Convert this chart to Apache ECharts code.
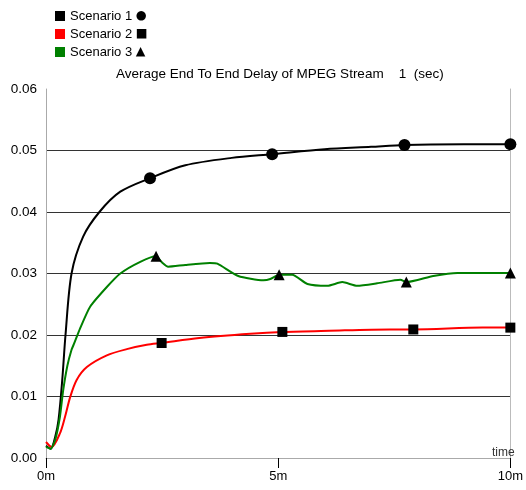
<!DOCTYPE html>
<html>
<head>
<meta charset="utf-8">
<script src="https://cdn.jsdelivr.net/npm/echarts@6/dist/echarts.min.js"></script>
<style>
  html, body { margin: 0; padding: 0; background: #fff; }
  #main { width: 526px; height: 490px; }
</style>
</head>
<body>
<div id="main"></div>
<script>
// time in minutes, delay in seconds
var s1Time  = [0, 0.1, 0.2, 0.27, 0.35, 0.42, 0.55, 0.8, 1.15, 1.6, 2.24, 3.0, 4.0, 4.87, 6.0, 7.0, 7.72, 9.0, 10];
var s1Delay = [0.0020, 0.0015, 0.0035, 0.0062, 0.0127, 0.020, 0.030, 0.036, 0.040, 0.0433, 0.0455, 0.0476, 0.0488, 0.0494, 0.0502, 0.0506, 0.0509, 0.0510, 0.0510];
var s1Marks = [2.24, 4.87, 7.72, 10];

var s2Time  = [0, 0.12, 0.3, 0.41, 0.52, 0.66, 0.88, 1.31, 1.74, 2.17, 2.49, 3.3, 4.4, 5.09, 6.1, 7.4, 7.91, 9.4, 10];
var s2Delay = [0.0026, 0.0018, 0.0040, 0.0067, 0.0099, 0.0127, 0.0148, 0.0167, 0.0177, 0.0184, 0.0187, 0.0195, 0.0202, 0.0205, 0.0207, 0.0209, 0.0209, 0.0212, 0.0212];
var s2Marks = [2.49, 5.09, 7.91, 10];

var s3Time  = [0, 0.1, 0.2, 0.3, 0.37, 0.46, 0.55, 0.6, 0.73, 0.95, 1.31, 1.6, 2.03, 2.37, 2.5, 2.63, 3.0, 3.53, 3.69, 4.14, 4.68, 4.83, 5.02, 5.3, 5.63, 6.06, 6.38, 6.7, 7.13, 7.63, 7.76, 8.34, 8.86, 10];
var s3Delay = [0.0018, 0.0015, 0.0030, 0.0067, 0.011, 0.0150, 0.0176, 0.0185, 0.0210, 0.0246, 0.0278, 0.0300, 0.0319, 0.0328, 0.0318, 0.0311, 0.0314, 0.0317, 0.0316, 0.0296, 0.0289, 0.0291, 0.0298, 0.0298, 0.0283, 0.0280, 0.0286, 0.0280, 0.0284, 0.0290, 0.0286, 0.0296, 0.0301, 0.0301];
var s3Marks = [2.37, 5.02, 7.76, 10];

var yTicks = [0, 0.01, 0.02, 0.03, 0.04, 0.05, 0.06];
var xTicks = [0, 5, 10];

function build(times, vals, marks, sym, size) {
  var out = [];
  for (var i = 0; i < times.length; i++) {
    if (marks.indexOf(times[i]) >= 0) {
      out.push({ value: [times[i], vals[i]], symbol: sym, symbolSize: size });
    } else {
      out.push({ value: [times[i], vals[i]], symbol: 'none' });
    }
  }
  return out;
}

var myChart = echarts.init(document.getElementById('main'));
var font = 'Arial, "Liberation Sans", sans-serif';

myChart.setOption({
  animation: false,
  backgroundColor: '#fff',
  title: [{
    text: 'Average End To End Delay of MPEG Stream    1  (sec)',
    left: 111, top: 62,
    textStyle: { fontFamily: font, fontSize: 13.5, fontWeight: 'normal', color: '#000' }
  }, {
    text: 'time',
    left: 487, top: 442,
    textStyle: { fontFamily: font, fontSize: 12, fontWeight: 'normal', color: '#333' }
  }],
  legend: {
    orient: 'vertical',
    left: 50, top: 3,
    icon: 'rect',
    itemWidth: 10, itemHeight: 10,
    itemGap: 2,
    textStyle: {
      fontFamily: font, fontSize: 13, color: '#000', lineHeight: 16,
      rich: { g: { fontFamily: '"DejaVu Sans"', fontSize: 12.5, lineHeight: 16, color: '#000' } }
    },
    formatter: function (name) {
      var g = { 'Scenario 1': '\u25CF', 'Scenario 2': '\u25A0', 'Scenario 3': '\u25B2' };
      return name + ' {g|' + g[name] + '}';
    },
    data: [
      { name: 'Scenario 1', itemStyle: { color: '#000' } },
      { name: 'Scenario 2', itemStyle: { color: '#ff0000' } },
      { name: 'Scenario 3', itemStyle: { color: '#008000' } }
    ]
  },
  grid: { left: 46, right: 14, top: 89, bottom: 32 },
  xAxis: {
    type: 'value',
    min: xTicks[0], max: xTicks[2], interval: 5,
    axisLine: { lineStyle: { color: '#aaa' } },
    axisTick: { length: 10, lineStyle: { color: '#000' } },
    axisLabel: { fontFamily: font, fontSize: 13, color: '#000', margin: 12, formatter: function (v) { return v + 'm'; } },
    splitLine: { show: false }
  },
  yAxis: [{
    type: 'value',
    min: yTicks[0], max: yTicks[6], interval: 0.01,
    axisLine: { show: true, lineStyle: { color: '#aaa' } },
    axisTick: { show: false },
    axisLabel: { fontFamily: font, fontSize: 13.5, color: '#000', margin: 9, formatter: function (v) { return v.toFixed(2); } },
    splitLine: { show: true, showMinLine: false, showMaxLine: false, lineStyle: { color: '#333', width: 1 } }
  }, {
    type: 'value', position: 'right',
    min: yTicks[0], max: yTicks[6], interval: 0.01,
    axisLine: { show: true, lineStyle: { color: '#bbb' } },
    axisTick: { show: false }, axisLabel: { show: false }, splitLine: { show: false }
  }],
  series: [{
    name: 'Scenario 1', type: 'line', smooth: 0.3,
    data: build(s1Time, s1Delay, s1Marks, 'circle', 12),
    lineStyle: { color: '#000', width: 2 },
    itemStyle: { color: '#000' }
  }, {
    name: 'Scenario 2', type: 'line', smooth: 0.3,
    data: build(s2Time, s2Delay, s2Marks, 'rect', 10),
    lineStyle: { color: '#ff0000', width: 2 },
    itemStyle: { color: '#000' }
  }, {
    name: 'Scenario 3', type: 'line', smooth: 0.2,
    data: build(s3Time, s3Delay, s3Marks, 'triangle', 11),
    lineStyle: { color: '#008000', width: 2 },
    itemStyle: { color: '#000' }
  }]
});
</script>
</body>
</html>
